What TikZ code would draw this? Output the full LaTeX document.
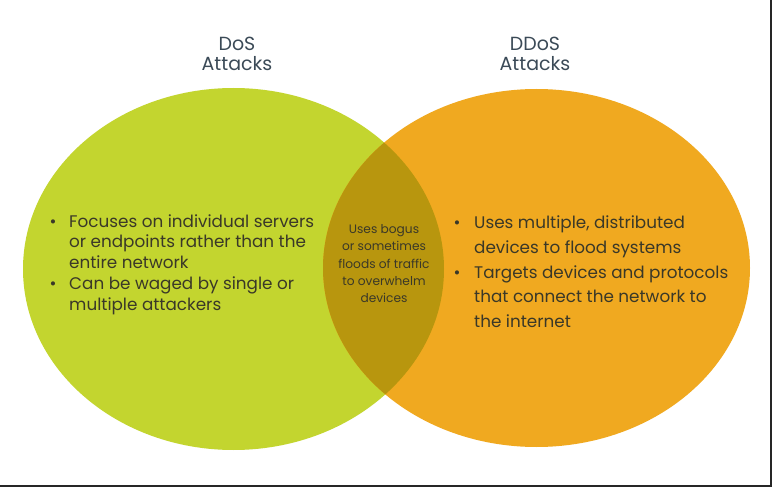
\documentclass[tikz,border=0pt]{standalone}
\usepackage{fontspec}
\setmainfont{Poppins}
\definecolor{dosgreen}{HTML}{C3D52F}
\definecolor{ddosorange}{HTML}{F0A920}
\definecolor{overlapcol}{HTML}{B8960E}
\definecolor{titlecol}{HTML}{3B4A57}
\definecolor{bodycol}{HTML}{3A3828}
\begin{document}
\begin{tikzpicture}[x=1pt,y=-1pt,
  title/.style={anchor=base,text=titlecol,inner sep=0pt,font=\fontsize{19}{22}\selectfont},
  body/.style={anchor=base west,text=bodycol,inner sep=0pt,font=\fontsize{16.8}{20}\selectfont},
  bul/.style={anchor=base,text=bodycol,inner sep=0pt,font=\fontsize{16.8}{20}\selectfont},
  mid/.style={anchor=base,text=bodycol,inner sep=0pt,font=\fontsize{12.2}{14}\selectfont}]
\useasboundingbox (0,0) rectangle (772,487);
\fill[white] (0,0) rectangle (772,487);
% ellipses
\fill[dosgreen] (233.5,269) ellipse [x radius=210.5, y radius=181];
\fill[ddosorange] (536.5,268) ellipse [x radius=213.5, y radius=179];
\begin{scope}
  \clip (233.5,269) ellipse [x radius=210.5, y radius=181];
  \fill[overlapcol] (536.5,268) ellipse [x radius=213.5, y radius=179];
\end{scope}
% frame lines
\draw[line width=1.2pt,black!85] (0,486) -- (771,486) -- (771,0);
% titles
\node[title] (t1a) at (237,51) {DoS};
\node[title] (t1b) at (237,71) {Attacks};
\node[title] (t2a) at (535,51) {DDoS};
\node[title] (t2b) at (535,71) {Attacks};
% left list
\node[bul] (lb1) at (53,227) {•};
\node[body] (l1a) at (69,227) {Focuses on individual servers};
\node[body] (l1b) at (69,247.5) {or endpoints rather than the};
\node[body] (l1c) at (69,268) {entire network};
\node[bul] (lb2) at (53,289) {•};
\node[body] (l2a) at (69,289) {Can be waged by single or};
\node[body] (l2b) at (69,310) {multiple attackers};
% right list
\node[bul] (rb1) at (457,228) {•};
\node[body] (r1a) at (474,228) {Uses multiple, distributed};
\node[body] (r1b) at (474,253) {devices to flood systems};
\node[bul] (rb2) at (457,278) {•};
\node[body] (r2a) at (474,278) {Targets devices and protocols};
\node[body] (r2b) at (474,302.5) {that connect the network to};
\node[body] (r2c) at (474,327) {the internet};
% middle
\node[mid] (m1) at (384,233) {Uses bogus};
\node[mid] (m2) at (384,250.5) {or sometimes};
\node[mid] (m3) at (384,268) {floods of traffic};
\node[mid] (m4) at (384,285) {to overwhelm};
\node[mid] (m5) at (384,302) {devices};
\end{tikzpicture}
\end{document}
